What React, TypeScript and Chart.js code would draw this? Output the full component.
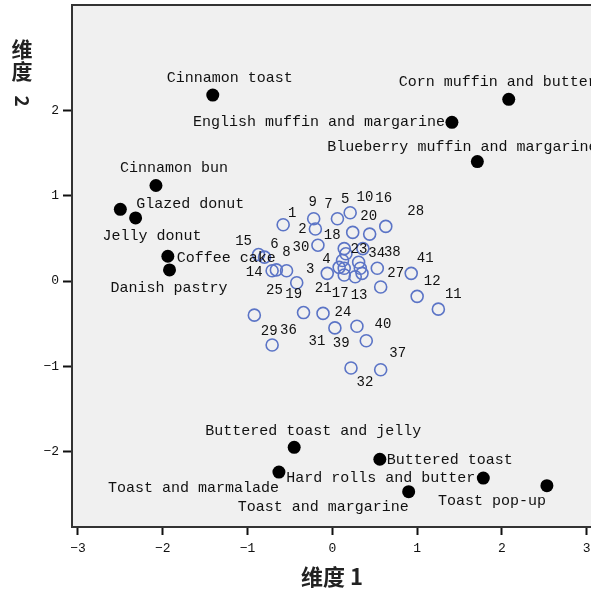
import React, { useEffect, useRef } from "react";
import { Chart, registerables } from "chart.js";

Chart.register(...registerables);

// ---- Data ----
const foodNames = [
  "Cinnamon toast",
  "Corn muffin and butter",
  "English muffin and margarine",
  "Blueberry muffin and margarine",
  "Cinnamon bun",
  "Glazed donut",
  "Jelly donut",
  "Coffee cake",
  "Danish pastry",
  "Buttered toast and jelly",
  "Buttered toast",
  "Hard rolls and butter",
  "Toast and marmalade",
  "Toast and margarine",
  "Toast pop-up",
];
const foodDim1 = [-1.41, 2.08, 1.41, 1.71, -2.08, -2.5, -2.32, -1.94, -1.92, -0.45, 0.56, 1.78, -0.63, 0.9, 2.53];
const foodDim2 = [2.18, 2.13, 1.86, 1.4, 1.12, 0.84, 0.74, 0.29, 0.13, -1.95, -2.09, -2.31, -2.24, -2.47, -2.4];

const respondentIds = [
  "1", "2", "3", "4", "5", "6", "7", "8", "9", "10",
  "11", "12", "13", "14", "15", "16", "17", "18", "19", "20",
  "21", "22", "23", "24", "25", "26", "27", "28", "29", "30",
  "31", "32", "33", "34", "35", "36", "37", "38", "39", "40", "41",
];
const respDim1 = [
  -0.58, -0.2, -0.06, 0.12, 0.21, -0.8, 0.06, -0.54, -0.22, 0.36,
  1.25, 1.0, 0.35, -0.71, -0.87, 0.63, 0.27, 0.14, -0.42, 0.24,
  0.14, 0.08, 0.16, -0.11, -0.66, 0.14, 0.57, 0.44, -0.71, -0.17,
  0.03, 0.22, 0.33, 0.31, -0.92, -0.34, 0.57, 0.53, 0.4, 0.29, 0.93,
];
const respDim2 = [
  0.66, 0.61, 0.09, 0.24, 0.8, 0.28, 0.73, 0.12, 0.73, 0.38,
  -0.33, -0.18, 0.09, 0.12, 0.31, 0.64, 0.05, 0.38, -0.02, 0.57,
  0.07, 0.16, 0.32, -0.38, 0.13, 0.15, -0.07, 0.55, -0.75, 0.42,
  -0.55, -1.02, 0.15, 0.22, -0.4, -0.37, -1.04, 0.15, -0.7, -0.53, 0.09,
];

const xTicks = [-3, -2, -1, 0, 1, 2, 3];
const yTicks = [-2, -1, 0, 1, 2];
const xTitle = "维度 1";
const yTitleChars = ["维", "度"];
const yTitleNum = "2";

// ---- Label placement (pixel offsets from each mark) ----
const foodLabelPos: Record<string, [number, number, CanvasTextAlign]> = {
  "Cinnamon toast": [17, -17, "center"],
  "Corn muffin and butter": [-110, -17, "left"],
  "English muffin and margarine": [-7, 0, "right"],
  "Blueberry muffin and margarine": [-150, -15, "left"],
  "Cinnamon bun": [-36, -17, "left"],
  "Glazed donut": [16, -5, "left"],
  "Jelly donut": [-33, 18, "left"],
  "Coffee cake": [9, 2, "left"],
  "Danish pastry": [-59, 18, "left"],
  "Buttered toast and jelly": [-89, -16, "left"],
  "Buttered toast": [7, 1, "left"],
  "Hard rolls and butter": [-8, 0, "right"],
  "Toast and marmalade": [-171, 16, "left"],
  "Toast and margarine": [-171, 15, "left"],
  "Toast pop-up": [-109, 15, "left"],
};
const idLabelPos: Record<string, [number, number] | null> = {
  "1": [9, -11], "2": [-13, 0], "3": [-17, -4], "4": [-16, -1], "5": [-5, -13],
  "6": [10, -13], "7": [-9, -14], "8": [0, -18], "9": [-1, -16], "10": [2, -51],
  "11": [15, -15], "12": [15, -15], "13": [-3, 22], "14": [-18, 2], "15": [-15, -13],
  "16": [-2, -28], "17": [-15, 17], "18": [-12, -13], "19": [-3, 12], "20": [16, -16],
  "21": [-21, 13], "22": null, "23": [13, -4], "24": [20, -1], "25": [-2, 20],
  "26": null, "27": [15, -14], "28": [46, -23], "29": [-3, -14], "30": [-17, 2],
  "31": [-18, 13], "32": [14, 14], "33": null, "34": [18, -9], "35": null,
  "36": [-15, 18], "37": [17, -16], "38": [15, -16], "39": [-25, 3], "40": [26, -2],
  "41": [14, -15],
};

const fmt = (v: number) => (v < 0 ? "\u2212" + Math.abs(v) : String(v));

const noPad = (s: any) => {
  s.paddingLeft = 0;
  s.paddingRight = 0;
  s.paddingTop = 0;
  s.paddingBottom = 0;
};

export default function App() {
  const ref = useRef<HTMLCanvasElement | null>(null);

  useEffect(() => {
    if (!ref.current) return;

    const decor = {
      id: "decor",
      beforeDraw(chart: any) {
        const { ctx, chartArea: a } = chart;
        ctx.save();
        ctx.fillStyle = "#f0f0f0";
        ctx.fillRect(a.left, a.top, a.right - a.left, a.bottom - a.top);
        ctx.restore();
      },
      afterDraw(chart: any) {
        const { ctx, chartArea: a } = chart;
        ctx.save();
        // top border
        ctx.strokeStyle = "#333";
        ctx.lineWidth = 2;
        ctx.beginPath();
        ctx.moveTo(a.left - 1, a.top);
        ctx.lineTo(a.right, a.top);
        ctx.stroke();
        // axis titles
        ctx.fillStyle = "#222";
        ctx.textBaseline = "middle";
        ctx.textAlign = "center";
        ctx.font = "bold 22px 'Noto Sans CJK SC'";
        ctx.fillText(xTitle, 332, 577);
        ctx.font = "bold 21px 'Noto Sans CJK SC'";
        ctx.fillText(yTitleChars[0], 22, 49);
        ctx.fillText(yTitleChars[1], 22, 71);
        ctx.save();
        ctx.translate(22, 101);
        ctx.rotate(Math.PI / 2);
        ctx.font = "bold 19px 'Noto Sans CJK SC'";
        ctx.fillText(yTitleNum, 0, 0);
        ctx.restore();
        ctx.restore();
      },
      afterDatasetsDraw(chart: any) {
        const { ctx } = chart;
        ctx.save();
        ctx.fillStyle = "#111";
        ctx.textBaseline = "middle";
        // respondent ids
        ctx.font = "14px 'Liberation Mono'";
        ctx.textAlign = "center";
        const m0 = chart.getDatasetMeta(0);
        respondentIds.forEach((id, i) => {
          const off = idLabelPos[id];
          const el = m0.data[i];
          if (!off || !el) return;
          ctx.fillText(id, el.x + off[0], el.y + off[1]);
        });
        // food names
        ctx.font = "15px 'Liberation Mono'";
        const m1 = chart.getDatasetMeta(1);
        foodNames.forEach((name, i) => {
          const p = foodLabelPos[name];
          const el = m1.data[i];
          if (!p || !el) return;
          ctx.textAlign = p[2];
          ctx.fillText(name, el.x + p[0], el.y + p[1]);
        });
        ctx.restore();
      },
    };

    const chart = new Chart(ref.current, {
      type: "scatter",
      data: {
        datasets: [
          {
            label: "Respondents",
            data: respDim1.map((x, i) => ({ x, y: respDim2[i] })),
            pointStyle: "circle",
            pointRadius: 6,
            pointBorderWidth: 1.6,
            pointBorderColor: "#5b74c6",
            pointBackgroundColor: "rgba(0,0,0,0)",
          },
          {
            label: "Foods",
            data: foodDim1.map((x, i) => ({ x, y: foodDim2[i] })),
            pointStyle: "circle",
            pointRadius: 6.5,
            pointBorderWidth: 0,
            pointBorderColor: "#000",
            pointBackgroundColor: "#000",
          },
        ],
      },
      options: {
        responsive: false,
        animation: false,
        layout: { autoPadding: false, padding: { left: 0, top: 5, right: 0, bottom: 0 } },
        plugins: { legend: { display: false }, tooltip: { enabled: false } },
        scales: {
          x: {
            type: "linear",
            min: -3.07,
            max: 3.05,
            afterFit: (s: any) => {
              s.height = 65;
              noPad(s);
            },
            afterBuildTicks: (s: any) => {
              s.ticks = xTicks.map((v) => ({ value: v }));
            },
            ticks: {
              includeBounds: false,
              callback: (v: any) => fmt(Number(v)),
              color: "#111",
              font: { family: "'Liberation Mono'", size: 13 },
              padding: 6,
              maxRotation: 0,
            },
            grid: {
              drawOnChartArea: false,
              drawTicks: true,
              tickLength: 8,
              tickWidth: 2,
              tickColor: "#111",
            },
            border: { display: true, color: "#333", width: 2 },
          },
          y: {
            type: "linear",
            min: -2.884,
            max: 3.236,
            afterFit: (s: any) => {
              s.width = 72;
              noPad(s);
            },
            afterBuildTicks: (s: any) => {
              s.ticks = yTicks.map((v) => ({ value: v }));
            },
            ticks: {
              includeBounds: false,
              callback: (v: any) => fmt(Number(v)),
              color: "#111",
              font: { family: "'Liberation Mono'", size: 13 },
              padding: 4,
            },
            grid: {
              drawOnChartArea: false,
              drawTicks: true,
              tickLength: 9,
              tickWidth: 2,
              tickColor: "#111",
            },
            border: { display: true, color: "#333", width: 2 },
          },
        },
      },
      plugins: [decor],
    } as any);

    return () => chart.destroy();
  }, []);

  return (
    <div style={{ position: "absolute", left: 0, top: 0, width: 591, height: 592, background: "#fff" }}>
      <canvas ref={ref} width={591} height={592} style={{ width: 591, height: 592, display: "block" }} />
    </div>
  );
}
